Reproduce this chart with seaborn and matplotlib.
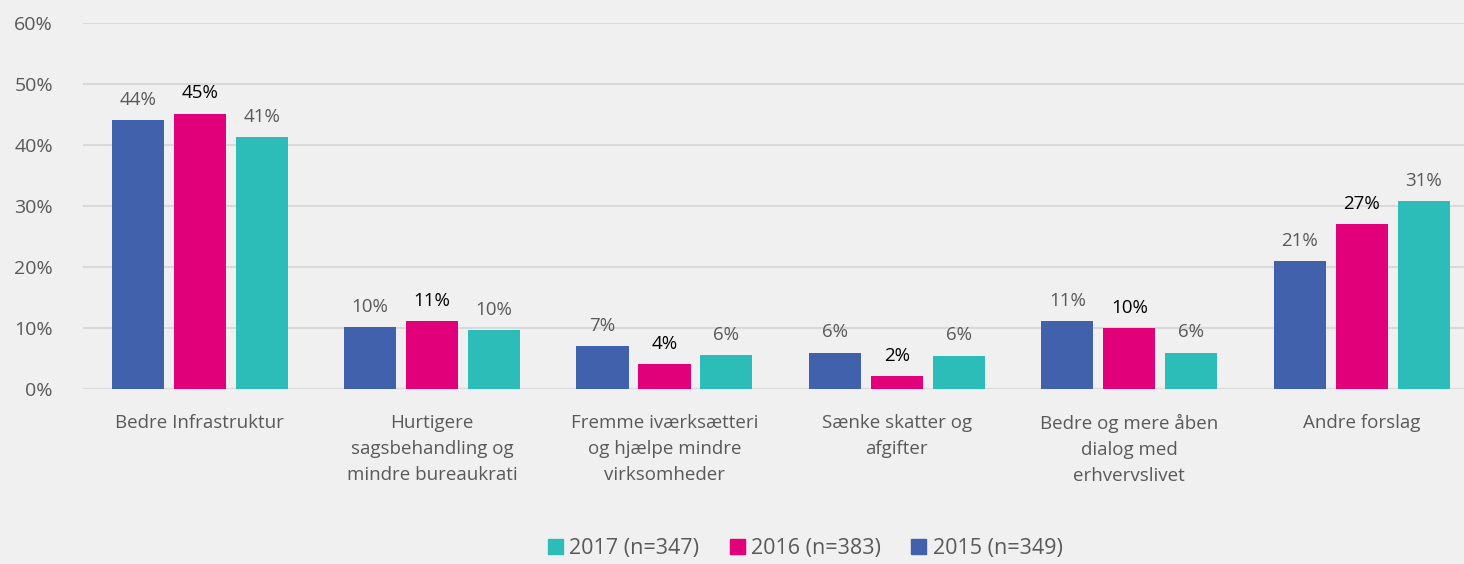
import seaborn as sns
import matplotlib.pyplot as plt
import pandas as pd

categories = [
    "Bedre Infrastruktur",
    "Hurtigere\nsagsbehandling og\nmindre bureaukrati",
    "Fremme iværksætteri\nog hjælpe mindre\nvirksomheder",
    "Sænke skatter og\nafgifter",
    "Bedre og mere åben\ndialog med\nerhvervslivet",
    "Andre forslag",
]
series = ["2015 (n=349)", "2016 (n=383)", "2017 (n=347)"]
v2015 = [44.1, 10.1, 7.0, 6.0, 11.1, 21.0]
v2016 = [45.1, 11.1, 4.1, 2.1, 10.0, 27.0]
v2017 = [41.3, 9.7, 5.6, 5.5, 6.0, 30.8]
labels2015 = ["44%", "10%", "7%", "6%", "11%", "21%"]
labels2016 = ["45%", "11%", "4%", "2%", "10%", "27%"]
labels2017 = ["41%", "10%", "6%", "6%", "6%", "31%"]

colors = ["#4161AD", "#E2007A", "#2CBDB9"]
bg = "#F0F0F0"

rows = []
for s, vals in zip(series, [v2015, v2016, v2017]):
    for c, v in zip(categories, vals):
        rows.append({"kategori": c, "serie": s, "andel": v})
df = pd.DataFrame(rows)

plt.rcParams["font.family"] = ["Open Sans", "DejaVu Sans"]
fig, ax = plt.subplots(figsize=(14.64, 5.64), dpi=100)
fig.patch.set_facecolor(bg)
ax.set_facecolor(bg)

sns.barplot(data=df, x="kategori", y="andel", hue="serie", palette=colors,
            hue_order=series, width=0.8, gap=0.16, saturation=1, ax=ax,
            legend=False)

label_sets = [labels2015, labels2016, labels2017]
label_colors = ["#595959", "#000000", "#595959"]
for cont, labs, lc in zip(ax.containers, label_sets, label_colors):
    ax.bar_label(cont, labels=labs, padding=8, fontsize=13.5, color=lc)

ax.set_ylim(0, 60)
ax.set_yticks(range(0, 61, 10))
ax.set_yticklabels([f"{t}%" for t in range(0, 61, 10)])
ax.set_xlim(-0.5, 5.44)
ax.grid(axis="y", color="#D9D9D9", linewidth=1.5)
ax.set_axisbelow(True)
for sp in ax.spines.values():
    sp.set_visible(False)
ax.tick_params(axis="both", length=0, colors="#595959")
ax.tick_params(axis="y", labelsize=14, pad=22)
ax.tick_params(axis="x", labelsize=13.5, pad=18)
for t in ax.get_xticklabels():
    t.set_linespacing(1.55)
ax.set_xlabel("")
ax.set_ylabel("")

handles = [plt.Rectangle((0, 0), 1, 1, color=colors[i]) for i in [2, 1, 0]]
fig.legend(handles, [series[i] for i in [2, 1, 0]], loc="lower center",
           ncol=3, frameon=False, fontsize=15.5, labelcolor="#595959",
           handlelength=0.7, handleheight=0.7, handletextpad=0.3,
           columnspacing=1.4, bbox_to_anchor=(0.55, -0.025))

plt.subplots_adjust(left=0.057, right=1.0, top=0.96, bottom=0.31)
plt.savefig("out.png", dpi=100, facecolor=bg)
